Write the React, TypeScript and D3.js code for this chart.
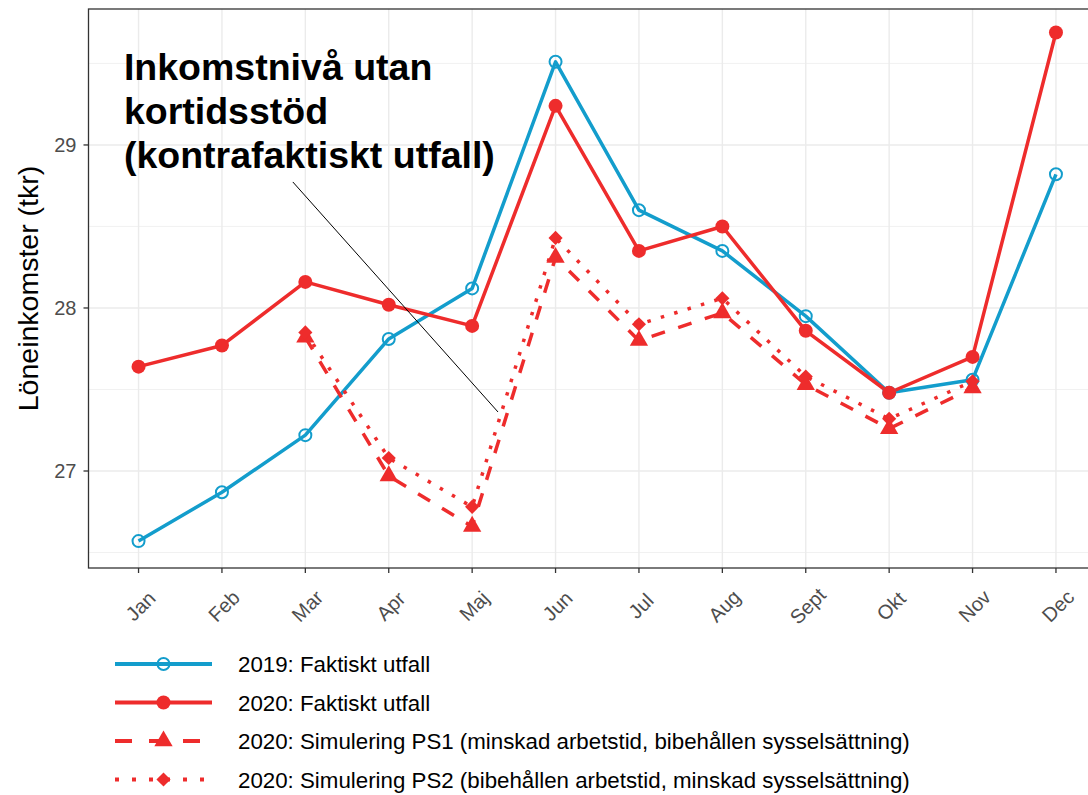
import React, { useEffect, useRef } from "react";
import * as d3 from "d3";

// månader och värden (tkr)
const months = ["Jan", "Feb", "Mar", "Apr", "Maj", "Jun", "Jul", "Aug", "Sept", "Okt", "Nov", "Dec"];
const faktiskt2019 = [26.57, 26.87, 27.22, 27.81, 28.12, 29.51, 28.6, 28.35, 27.95, 27.48, 27.56, 28.82];
const faktiskt2020 = [27.64, 27.77, 28.16, 28.02, 27.89, 29.24, 28.35, 28.5, 27.86, 27.48, 27.7, 29.69];
const simuleringPS1 = [null, null, 27.82, 26.97, 26.66, 28.31, 27.8, 27.97, 27.53, 27.26, 27.51, null];
const simuleringPS2 = [null, null, 27.85, 27.08, 26.78, 28.43, 27.9, 28.06, 27.58, 27.32, 27.55, null];
const yTicks = [27, 28, 29];
const yMinor = [26.5, 27.5, 28.5, 29.5];
const legendLabels = [
  "2019: Faktiskt utfall",
  "2020: Faktiskt utfall",
  "2020: Simulering PS1 (minskad arbetstid, bibehållen sysselsättning)",
  "2020: Simulering PS2 (bibehållen arbetstid, minskad sysselsättning)",
];
const annotationLines = ["Inkomstnivå utan", "kortidsstöd", "(kontrafaktiskt utfall)"];

const BLUE = "#139DCC";
const RED = "#EE2C2C";
const FONT = "'Liberation Sans', Arial, sans-serif";

const series = [
  { values: faktiskt2019, color: BLUE, dash: null, shape: "openCircle" },
  { values: faktiskt2020, color: RED, dash: null, shape: "circle" },
  { values: simuleringPS1, color: RED, dash: "14,14", shape: "triangle" },
  { values: simuleringPS2, color: RED, dash: "3.5,10.5", shape: "diamond" },
];

function drawMarker(g, shape, color, x, y) {
  if (shape === "openCircle") {
    g.append("circle").attr("cx", x).attr("cy", y).attr("r", 6)
      .attr("fill", "white").attr("fill-opacity", 0).attr("stroke", color).attr("stroke-width", 2);
  } else if (shape === "circle") {
    g.append("circle").attr("cx", x).attr("cy", y).attr("r", 7).attr("fill", color);
  } else if (shape === "triangle") {
    g.append("path").attr("d", d3.symbol(d3.symbolTriangle, 145)())
      .attr("transform", `translate(${x},${y})`).attr("fill", color);
  } else {
    g.append("path").attr("d", d3.symbol(d3.symbolSquare, 100)())
      .attr("transform", `translate(${x},${y}) rotate(45)`).attr("fill", color);
  }
}

export default function App() {
  const svgRef = useRef(null);
  const width = 1088;
  const height = 795;
  const margin = { top: 9, right: -18, bottom: 227, left: 88.5 };

  useEffect(() => {
    const svg = d3.select(svgRef.current);
    svg.selectAll("*").remove();

    const x = d3
      .scalePoint()
      .domain(months)
      .range([margin.left, width - margin.right])
      .padding(0.6);
    const xi = d3
      .scaleLinear()
      .domain([0, months.length - 1])
      .range([x(months[0]), x(months[months.length - 1])]);
    const y = d3
      .scaleLinear()
      .domain([26.405, 29.834])
      .range([height - margin.bottom, margin.top]);

    const panelBottom = height - margin.bottom;
    const panelRight = width - margin.right;

    // rutnät
    const grid = svg.append("g");
    grid.selectAll(".minor").data(yMinor).join("line")
      .attr("x1", margin.left).attr("x2", panelRight)
      .attr("y1", (d) => y(d)).attr("y2", (d) => y(d))
      .attr("stroke", "#EFEFEF").attr("stroke-width", 0.9);
    grid.selectAll(".major").data(yTicks).join("line")
      .attr("x1", margin.left).attr("x2", panelRight)
      .attr("y1", (d) => y(d)).attr("y2", (d) => y(d))
      .attr("stroke", "#EBEBEB").attr("stroke-width", 1.4);
    grid.selectAll(".vmajor").data(months).join("line")
      .attr("x1", (d) => x(d)).attr("x2", (d) => x(d))
      .attr("y1", margin.top).attr("y2", panelBottom)
      .attr("stroke", "#EBEBEB").attr("stroke-width", 1.4);

    // linjer
    const line = d3
      .line()
      .defined((d) => d != null)
      .x((d, i) => x(months[i]))
      .y((d) => y(d));

    series.forEach((s) => {
      svg.append("path")
        .datum(s.values)
        .attr("d", line)
        .attr("fill", "none")
        .attr("stroke", s.color)
        .attr("stroke-width", 3.5)
        .attr("stroke-linejoin", "round")
        .attr("stroke-dasharray", s.dash);
    });
    series.forEach((s) => {
      const g = svg.append("g");
      s.values.forEach((v, i) => {
        if (v == null) return;
        drawMarker(g, s.shape, s.color, x(months[i]), y(v));
      });
    });

    // kommentar
    svg.append("line")
      .attr("x1", xi(1.85)).attr("y1", y(28.773))
      .attr("x2", xi(4.31)).attr("y2", y(27.362))
      .attr("stroke", "black").attr("stroke-width", 1);
    svg.append("text")
      .attr("x", xi(-0.175))
      .attr("font-family", FONT).attr("font-size", 37.5).attr("font-weight", "bold")
      .selectAll("tspan").data(annotationLines).join("tspan")
      .attr("x", xi(-0.175))
      .attr("y", (d, i) => y(29.4) + i * 44)
      .text((d) => d);

    // ram
    svg.append("rect")
      .attr("x", margin.left).attr("y", margin.top)
      .attr("width", panelRight - margin.left).attr("height", panelBottom - margin.top)
      .attr("fill", "none").attr("stroke", "#333333").attr("stroke-width", 1.3);

    // axlar
    const yAxis = svg.append("g");
    yAxis.selectAll("line").data(yTicks).join("line")
      .attr("x1", margin.left - 5).attr("x2", margin.left)
      .attr("y1", (d) => y(d)).attr("y2", (d) => y(d))
      .attr("stroke", "#333333").attr("stroke-width", 1.3);
    yAxis.selectAll("text").data(yTicks).join("text")
      .attr("x", margin.left - 12).attr("y", (d) => y(d))
      .attr("dy", "0.35em").attr("text-anchor", "end")
      .attr("font-family", FONT).attr("font-size", 20).attr("fill", "#4D4D4D")
      .text((d) => d);

    const xAxis = svg.append("g");
    xAxis.selectAll("line").data(months).join("line")
      .attr("x1", (d) => x(d)).attr("x2", (d) => x(d))
      .attr("y1", panelBottom).attr("y2", panelBottom + 5)
      .attr("stroke", "#333333").attr("stroke-width", 1.3);
    xAxis.selectAll("text").data(months).join("text")
      .attr("transform", (d) => `translate(${x(d) + 2},${panelBottom + 38}) rotate(-45)`)
      .attr("text-anchor", "middle").attr("dy", "0.35em")
      .attr("font-family", FONT).attr("font-size", 20).attr("fill", "#4D4D4D")
      .text((d) => d);

    svg.append("text")
      .attr("transform", `translate(38,${(margin.top + panelBottom) / 2}) rotate(-90)`)
      .attr("text-anchor", "middle")
      .attr("font-family", FONT).attr("font-size", 28.5).attr("fill", "black")
      .text("Löneinkomster (tkr)");

    // förklaring
    const legend = svg.append("g");
    series.forEach((s, i) => {
      const ly = 664 + i * 38.5;
      legend.append("line")
        .attr("x1", 115).attr("x2", 212).attr("y1", ly).attr("y2", ly)
        .attr("stroke", s.color).attr("stroke-width", 3.8)
        .attr("stroke-dasharray", s.dash ? (s.shape === "triangle" ? "17,17" : "4,13") : null);
      drawMarker(legend, s.shape, s.color, 163.5, ly);
      legend.append("text")
        .attr("x", 238).attr("y", ly + 8)
        .attr("font-family", FONT).attr("font-size", 22.3).attr("fill", "black")
        .text(legendLabels[i]);
    });
  }, []);

  return (
    <div style={{ position: "absolute", left: 0, top: 0, width, height, overflow: "hidden", background: "white" }}>
      <svg ref={svgRef} width={width} height={height} />
    </div>
  );
}
